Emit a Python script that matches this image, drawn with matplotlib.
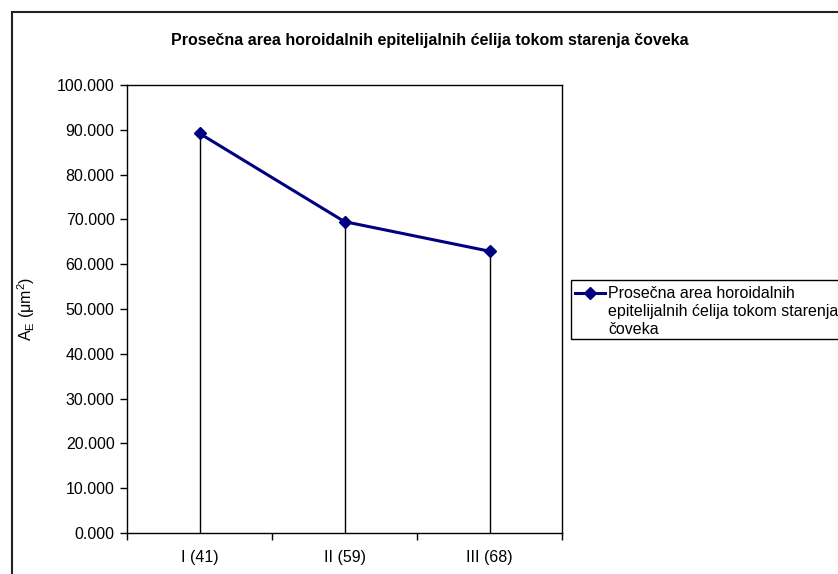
import matplotlib
matplotlib.use('Agg')
import matplotlib.pyplot as plt
from matplotlib.lines import Line2D
from matplotlib.patches import Rectangle
from matplotlib.ticker import FormatStrFormatter

plt.rcParams['font.family'] = ['Liberation Sans', 'DejaVu Sans']

# data
groups = ['I (41)', 'II (59)', 'III (68)']
area = [89.2, 69.5, 62.9]
title = 'Prosečna area horoidalnih epitelijalnih ćelija tokom starenja čoveka'
legend_lines = ['Prosečna area horoidalnih',
                'epitelijalnih ćelija tokom starenja',
                'čoveka']

W, H = 838, 574
fs = 11.5
navy = '#000080'
fig = plt.figure(figsize=(W / 100, H / 100), dpi=100)


def fx(px):
    return px / W


def fy(py):
    return 1 - py / H


# plot area in pixel coords: left 127, right 562, top 85, bottom 533
ax = fig.add_axes([fx(127), fy(533), (562 - 127) / W, (533 - 85) / H])

x = list(range(1, len(groups) + 1))
ax.vlines(x, 0, area, color='black', lw=1)
ax.plot(x, area, color=navy, lw=2.2, marker='D', markersize=6)

ax.set_xlim(0.5, len(groups) + 0.5)
ax.set_ylim(0, 100)
ax.set_yticks(range(0, 101, 10))
ax.yaxis.set_major_formatter(FormatStrFormatter('%.3f'))
ax.set_xticks([i + 0.5 for i in range(len(groups) + 1)])
ax.set_xticklabels([])
ax.set_xticks(x, minor=True)
ax.set_xticklabels(groups, minor=True)
ax.tick_params(axis='x', which='minor', length=0, pad=12, labelsize=fs)
ax.tick_params(axis='both', which='major', direction='out', length=5,
               width=1, labelsize=fs, color='black')
ax.tick_params(axis='y', pad=4)
for s in ax.spines.values():
    s.set_linewidth(1)
    s.set_color('black')

ax.set_ylabel(r'A$_\mathregular{E}$ ($\mathregular{\mu}$m$^\mathregular{2}$)',
              fontsize=fs)
ax.yaxis.set_label_coords((37 - 127) / (562 - 127), 0.5)

fig.text(fx(430), fy(40), title, ha='center', va='center',
         fontsize=fs, fontweight='bold')

# legend, Excel style: marker on the first text line, box runs off the right
fig.patches.append(Rectangle((fx(571), fy(339)), 0.5, (339 - 280) / H,
                             transform=fig.transFigure, fill=False,
                             edgecolor='black', lw=1))
fig.lines.append(Line2D([fx(575), fx(605)], [fy(293), fy(293)],
                        transform=fig.transFigure, color=navy, lw=2.2))
fig.lines.append(Line2D([fx(590)], [fy(293)], transform=fig.transFigure,
                        color=navy, marker='D', markersize=6, lw=0))
for i, line in enumerate(legend_lines):
    fig.text(fx(608), fy(298 + 18 * i), line, ha='left', va='baseline',
             fontsize=fs)

# outer chart border, partly off-canvas
fig.patches.append(Rectangle((fx(12), -0.1), 1.1, 1 - 12 / H + 0.1,
                             transform=fig.transFigure, fill=False,
                             edgecolor='#222222', lw=1.5))

fig.savefig('out.png', dpi=100)
